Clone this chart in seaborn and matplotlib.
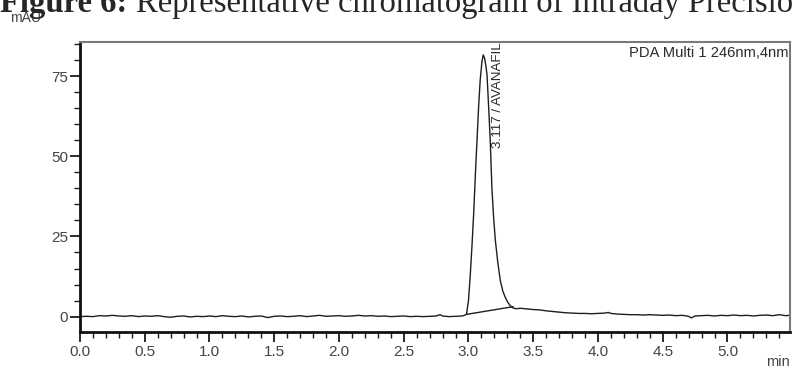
import matplotlib
matplotlib.use("Agg")
import matplotlib.pyplot as plt
from matplotlib.ticker import MultipleLocator
import numpy as np
import pandas as pd
import seaborn as sns

# Retention time (min) and detector response (mAU) of the PDA trace
time_min = [
    0.00, 0.05, 0.10, 0.15, 0.20, 0.25, 0.30, 0.35, 0.40, 0.45,
    0.50, 0.55, 0.60, 0.65, 0.70, 0.75, 0.80, 0.85, 0.90, 0.95,
    1.00, 1.05, 1.10, 1.15, 1.20, 1.25, 1.30, 1.35, 1.40, 1.45,
    1.50, 1.55, 1.60, 1.65, 1.70, 1.75, 1.80, 1.85, 1.90, 1.95,
    2.00, 2.05, 2.10, 2.15, 2.20, 2.25, 2.30, 2.35, 2.40, 2.45,
    2.50, 2.55, 2.60, 2.65, 2.70, 2.75, 2.78, 2.80, 2.85, 2.90,
    2.95, 2.97, 2.985, 3.000, 3.014, 3.027, 3.040, 3.053, 3.066, 3.079,
    3.091, 3.104, 3.114, 3.125, 3.135, 3.143, 3.155, 3.168, 3.181, 3.194,
    3.207, 3.226, 3.246, 3.265, 3.284, 3.303, 3.323, 3.340, 3.360, 3.380,
    3.40, 3.45, 3.50, 3.55, 3.60, 3.65, 3.70, 3.75, 3.80, 3.85,
    3.90, 3.95, 4.00, 4.05, 4.08, 4.10, 4.15, 4.20, 4.25, 4.30,
    4.35, 4.40, 4.45, 4.50, 4.55, 4.60, 4.65, 4.70, 4.72, 4.75,
    4.80, 4.85, 4.90, 4.95, 5.00, 5.05, 5.10, 5.15, 5.20, 5.25,
    5.30, 5.35, 5.40, 5.45, 5.48,
]
absorbance_mau = [
    0.0, 0.1, 0.0, 0.3, 0.2, 0.4, 0.2, 0.1, 0.3, 0.0,
    0.2, 0.1, 0.3, 0.0, -0.2, 0.1, 0.2, -0.1, 0.1, 0.0,
    0.2, 0.0, 0.3, 0.1, 0.0, 0.2, -0.1, 0.1, 0.2, -0.3,
    0.1, 0.2, 0.0, 0.1, 0.3, 0.0, 0.2, 0.4, 0.1, 0.2,
    0.3, 0.1, 0.2, 0.4, 0.2, 0.3, 0.1, 0.2, 0.0, 0.1,
    0.2, 0.0, 0.1, 0.0, 0.1, 0.2, 0.6, 0.2, 0.0, 0.1,
    0.2, 0.4, 0.8, 5.0, 13.0, 22.0, 32.0, 44.0, 55.0, 66.0,
    74.0, 79.5, 81.6, 80.5, 78.0, 75.5, 66.0, 55.0, 40.0, 31.0,
    24.0, 17.0, 11.2, 8.0, 6.0, 4.5, 3.4, 2.8, 2.5, 2.5,
    2.6, 2.4, 2.2, 2.1, 1.8, 1.6, 1.4, 1.2, 1.1, 1.0,
    1.0, 0.9, 1.0, 1.1, 1.3, 1.0, 0.8, 0.7, 0.6, 0.6,
    0.5, 0.6, 0.5, 0.4, 0.5, 0.3, 0.4, 0.1, -0.4, 0.2,
    0.3, 0.4, 0.2, 0.4, 0.3, 0.5, 0.3, 0.4, 0.2, 0.4,
    0.5, 0.3, 0.6, 0.3, 0.4,
]

# Integration baseline drawn under the peak
baseline_time = [2.985, 3.345]
baseline_mau = [0.7, 3.1]

peak_label = "3.117 / AVANAFIL"
peak_label_time = 3.23
detector_label = "PDA Multi 1 246nm,4nm"
x_ticks = [0.0, 0.5, 1.0, 1.5, 2.0, 2.5, 3.0, 3.5, 4.0, 4.5, 5.0]
y_ticks = [0, 25, 50, 75]

sns.set_style("white")
plt.rcParams["font.family"] = ["Liberation Sans", "DejaVu Sans"]

W, H = 792, 369
fig = plt.figure(figsize=(W / 100, H / 100), dpi=100)
ax = fig.add_axes([80 / W, 1 - 331.7 / H, 710 / W, 290 / H])

trace = pd.DataFrame({"time": time_min, "mAU": absorbance_mau})
sns.lineplot(data=trace, x="time", y="mAU", ax=ax, sort=False,
             estimator=None, color="#1e1e1e", linewidth=1.0)
sns.lineplot(x=baseline_time, y=baseline_mau, ax=ax, sort=False,
             estimator=None, color="#1e1e1e", linewidth=1.0)

ax.set_xlim(0, 5.483)
ax.set_ylim(-4.7, 85.7)
ax.set_xlabel("")
ax.set_ylabel("")

ax.set_xticks(x_ticks)
ax.set_xticklabels([f"{v:.1f}" for v in x_ticks])
ax.set_yticks(y_ticks)
ax.set_yticklabels([str(v) for v in y_ticks])
ax.xaxis.set_minor_locator(MultipleLocator(0.1))
ax.yaxis.set_minor_locator(MultipleLocator(5))

ax.tick_params(axis="both", which="major", direction="out", length=7,
               width=1.3, color="#1a1a1a", labelsize=11,
               labelcolor="#444444", pad=1.5)
ax.tick_params(axis="both", which="minor", direction="out", length=4,
               width=1.0, color="#1a1a1a")
ax.tick_params(axis="x", which="major", pad=2.5)
ax.tick_params(left=True, bottom=True, which="both")

for side in ("left", "bottom"):
    ax.spines[side].set_color("#111111")
    ax.spines[side].set_linewidth(2.0)
for side in ("top", "right"):
    ax.spines[side].set_color("#7a7a7a")
    ax.spines[side].set_linewidth(1.5)

ax.text(peak_label_time, 85.4, peak_label, rotation=90, ha="center",
        va="top", fontsize=9.6, color="#2a2a2a")
ax.text(0.998, 0.985, detector_label, transform=ax.transAxes, ha="right",
        va="top", fontsize=10.6, color="#2a2a2a")

fig.text(10 / W, 1 - 22 / H, "mAU", ha="left", va="baseline",
         fontsize=10, color="#444444")
fig.text(790 / W, 1 - 366 / H, "min", ha="right", va="baseline",
         fontsize=10.5, color="#444444")

# Figure caption along the top edge
cap_y = 1 - 12 / H
fig.text(0.0, cap_y, "Figure 6:", ha="left", va="baseline",
         fontsize=23.5, fontweight="bold", family="Liberation Serif")
fig.text(136 / W, cap_y, "Representative chromatogram of Intraday Precision",
         ha="left", va="baseline", fontsize=23.5, family="Liberation Serif")

fig.savefig("out.png", dpi=100)
